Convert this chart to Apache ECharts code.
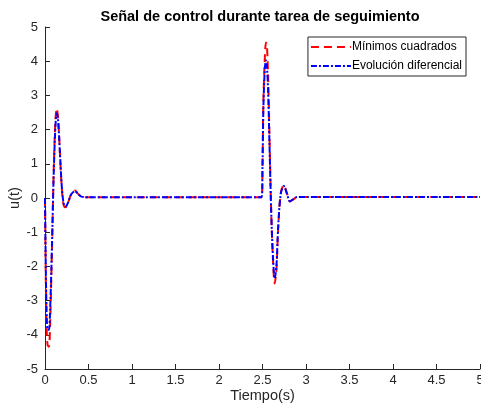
<!DOCTYPE html>
<html>
<head>
<meta charset="utf-8">
<script src="https://cdn.jsdelivr.net/npm/echarts@6/dist/echarts.min.js"></script>
<style>
  html, body { margin: 0; padding: 0; background: #fff; }
  #chart { width: 481px; height: 414px; }
</style>
</head>
<body>
<div id="chart"></div>
<script>
// tiempo (s)
const tiempo = [
  0, 0.01, 0.02, 0.03, 0.045, 0.06, 0.08, 0.1, 0.12, 0.135, 0.15, 0.17, 0.19, 0.21, 0.23, 0.245, 0.27, 0.3, 0.345, 0.38, 0.42, 0.5,
  1, 1.5, 2, 2.49, 2.5, 2.51, 2.525, 2.54, 2.55, 2.565, 2.58, 2.6, 2.62, 2.64, 2.66, 2.68, 2.71, 2.745, 2.78, 2.815, 2.85, 2.9,
  3, 3.5, 4, 4.5, 5
]
// Mínimos cuadrados
const minimosCuadrados = [
  0, -2.5, -3.9, -4.3, -4.35, -3.6, -1.5, 0.8, 2.3, 2.62, 2.35, 1.4, 0.4, -0.15, -0.27, -0.25, -0.1, 0.1, 0.22, 0.12, 0.04, 0.02,
  0.02, 0.02, 0.02, 0.02, 1.0, 2.8, 4.0, 4.55, 4.5, 3.5, 1.8, -0.4, -1.8, -2.5, -2.1, -0.9, 0.15, 0.38, 0.15, -0.1, -0.05, 0.03,
  0.03, 0.03, 0.03, 0.03, 0.03
]
// Evolución diferencial
const evolucionDiferencial = [
  0, -2.2, -3.5, -3.85, -3.85, -3.2, -1.4, 0.7, 2.1, 2.48, 2.3, 1.4, 0.45, -0.1, -0.25, -0.24, -0.1, 0.1, 0.2, 0.12, 0.04, 0.02,
  0.02, 0.02, 0.02, 0.02, 0.9, 2.6, 3.7, 4.03, 3.9, 3.1, 1.6, -0.4, -1.7, -2.35, -2.0, -0.85, 0.12, 0.35, 0.13, -0.1, -0.04, 0.03,
  0.03, 0.03, 0.03, 0.03, 0.03
]

const axisColor = '#262626'
const font = 'Liberation Sans, Arial, Helvetica, sans-serif'

const pares = (ys) => tiempo.map((t, i) => [t, ys[i]])

const chart = echarts.init(document.getElementById('chart'))
chart.setOption({
  animation: false,
  backgroundColor: '#fff',
  textStyle: { fontFamily: font },
  title: {
    text: 'Señal de control durante tarea de seguimiento',
    left: 255, top: 4, textAlign: 'center',
    textStyle: { fontSize: 14.5, fontWeight: 'bold', color: '#000', fontFamily: font }
  },
  legend: {
    orient: 'vertical',
    right: 15, top: 37,
    padding: [4, 4, 4, 2],
    itemGap: 7,
    itemWidth: 40, itemHeight: 12,
    borderColor: axisColor, borderWidth: 1,
    itemStyle: { opacity: 0 },
    textStyle: { fontSize: 12, color: '#000', padding: [0, 0, 0, -4] },
    data: ['Mínimos cuadrados', 'Evolución diferencial']
  },
  grid: { left: 45, right: 1, top: 27, bottom: 45, outerBoundsMode: 'none', containLabel: false },
  xAxis: {
    type: 'value', min: 0, max: 5, interval: 0.5,
    name: 'Tiempo(s)', nameLocation: 'middle', nameGap: 19, nameMoveOverlap: false,
    nameTextStyle: { fontSize: 14.5, color: axisColor },
    axisLine: { onZero: false, lineStyle: { color: axisColor } },
    axisTick: { inside: true, length: 5, lineStyle: { color: axisColor } },
    axisLabel: { fontSize: 13, color: axisColor, margin: 5, showMaxLabel: true },
    splitLine: { show: false }
  },
  yAxis: {
    type: 'value', min: -5, max: 5, interval: 1,
    name: 'u(t)', nameLocation: 'middle', nameGap: 23, nameRotate: 90, nameMoveOverlap: false,
    nameTextStyle: { fontSize: 14.5, color: axisColor },
    axisLine: { show: true, onZero: false, lineStyle: { color: axisColor } },
    axisTick: { show: true, inside: true, length: 5, lineStyle: { color: axisColor } },
    axisLabel: { fontSize: 13, color: axisColor, margin: 7 },
    splitLine: { show: false }
  },
  series: [
    {
      name: 'Mínimos cuadrados', type: 'line', symbol: 'none', smooth: 0.3,
      data: pares(minimosCuadrados),
      color: '#ff0000',
      lineStyle: { color: '#ff0000', width: 2, type: [8, 5] }
    },
    {
      name: 'Evolución diferencial', type: 'line', symbol: 'none', smooth: 0.3,
      data: pares(evolucionDiferencial),
      color: '#0000ff',
      lineStyle: { color: '#0000ff', width: 2, type: [6, 2, 2, 2] }
    }
  ]
})
</script>
</body>
</html>
